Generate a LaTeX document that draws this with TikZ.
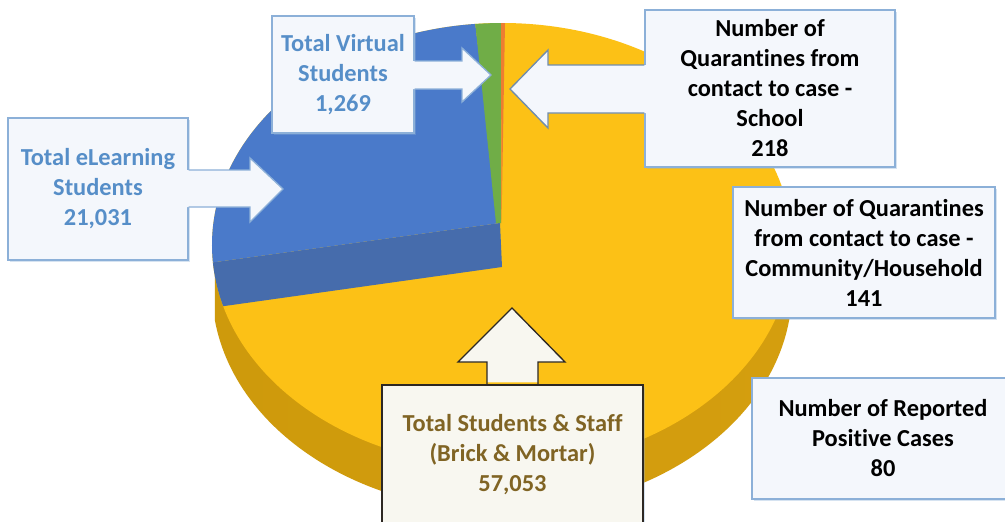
\documentclass[tikz,border=0pt]{standalone}
\usepackage{fontspec}
\setmainfont{Carlito}[Ligatures={NoCommon,NoRequired}, Contextuals=NoAlternate]
\usepackage{tikz}
\usetikzlibrary{shadows}

\definecolor{pieyellow}{RGB}{252,193,22}
\definecolor{pieblue}{RGB}{74,122,202}
\definecolor{piebluedark}{RGB}{70,108,172}
\definecolor{piegreen}{RGB}{112,173,71}
\definecolor{pieorange}{RGB}{237,125,49}
\definecolor{boxfill}{RGB}{244,247,252}
\definecolor{boxline}{RGB}{140,176,216}
\definecolor{bluetext}{RGB}{86,142,200}
\definecolor{creamfill}{RGB}{248,247,240}
\definecolor{browntext}{RGB}{128,100,36}
\definecolor{darkline}{RGB}{45,40,35}

\begin{document}
\begin{tikzpicture}[x=0.75pt,y=0.75pt,yscale=-1,xscale=1,
  txt/.style={font=\fontsize{18.3}{22.5}\selectfont\bfseries, align=center, inner sep=0pt},
  bluebox/.style={txt, draw=boxline, line width=1pt, fill=boxfill, text=bluetext,
    drop shadow={shadow xshift=1.5pt, shadow yshift=-1.5pt, opacity=0.35, fill=boxline}},
  blackbox/.style={bluebox, text=black},
  brickbox/.style={txt, draw=darkline, line width=1pt, fill=creamfill, text=browntext,
    drop shadow={shadow xshift=1.5pt, shadow yshift=-1.5pt, opacity=0.35, fill=boxline}},
  arrowline/.style={line width=1pt, line join=miter}
]
\path [use as bounding box, fill=white] (0,0) rectangle (1005,521);

%Shape: Pie side
\shade [left color={rgb,255:red,206;green,154;blue,12}, middle color={rgb,255:red,240;green,186;blue,24}, right color={rgb,255:red,212;green,158;blue,14}]
  (214.8,275.9) -- (214.8,319.9) arc [start angle=172, end angle=0, x radius=290, y radius=222] -- (792,245) -- cycle;
%Shape: Pie top (Brick & Mortar)
\fill [pieyellow] (502,245) ellipse [x radius=290, y radius=222];
%Shape: Slice eLearning, face
\fill [piebluedark] (212.9,262.4) -- (500,223) -- (502,267) -- (223.2,306.2) arc [start angle=164, end angle=175.5, x radius=290, y radius=222] -- cycle;
%Shape: Slice eLearning, top
\fill [pieblue] (500,223) -- (212.9,262.4) arc [start angle=175.5, end angle=264.7, x radius=290, y radius=222] -- cycle;
%Shape: Slice Virtual
\fill [piegreen] (475.3,24) arc [start angle=264.7, end angle=269.8, x radius=290, y radius=222] -- (501,223) -- (496,223) -- cycle;
%Shape: Slice School
\fill [pieorange] (501,23) -- (505,23) -- (501.5,223) -- cycle;

% Text Node
\draw (343,74.5) node [bluebox, minimum width=106.5pt, minimum height=87.75pt] (virt) {Total Virtual\\Students\\1,269};
% Text Node
\draw (98,189) node [bluebox, minimum width=135pt, minimum height=106.5pt] (elearn) {Total eLearning\\Students\\21,031};
% Text Node
\draw (770,88.5) node [blackbox, minimum width=187.5pt, minimum height=117.75pt] (school) {Number of\\Quarantines from\\contact to case -\\School\\218};
% Text Node
\draw (864,252.5) node [blackbox, minimum width=196.5pt, minimum height=98.25pt] (household) {Number of Quarantines\\from contact to case -\\Community/Household\\141};
% Text Node
\draw (883,438.5) node [blackbox, minimum width=196.5pt, minimum height=90.75pt] (positive) {Number of Reported\\Positive Cases\\80};
% Text Node
\draw (512.5,455) node [brickbox, minimum width=195.75pt, minimum height=105pt] (brick) {Total Students \& Staff\\(Brick \& Mortar)\\57,053};

\coordinate (virttip) at (491,75);
\coordinate (elearntip) at (283,189);
\coordinate (schooltip) at (510,89);
\coordinate (bricktip) at (512,308);

%Shape: Arrow to Virtual
\fill [boxfill] ([xshift=-1.5pt]virt.east |- 0,61) -- (462,61) -- (462,48) -- (virttip) -- (462,102) -- (462,89) -- ([xshift=-1.5pt]virt.east |- 0,89) -- cycle;
\draw [boxline, arrowline] (virt.east |- 0,61) -- (462,61) -- (462,48) -- (virttip) -- (462,102) -- (462,89) -- (virt.east |- 0,89);
%Shape: Arrow to eLearning
\fill [boxfill] ([xshift=-1.5pt]elearn.east |- 0,170) -- (250,170) -- (250,158) -- (elearntip) -- (250,222) -- (250,207) -- ([xshift=-1.5pt]elearn.east |- 0,207) -- cycle;
\draw [boxline, arrowline] (elearn.east |- 0,170) -- (250,170) -- (250,158) -- (elearntip) -- (250,222) -- (250,207) -- (elearn.east |- 0,207);
%Shape: Arrow to School
\fill [boxfill] ([xshift=1.5pt]school.west |- 0,65) -- (548,65) -- (548,50) -- (schooltip) -- (548,128) -- (548,113) -- ([xshift=1.5pt]school.west |- 0,113) -- cycle;
\draw [boxline!80!black, arrowline] (school.west |- 0,65) -- (548,65) -- (548,50) -- (schooltip) -- (548,128) -- (548,113) -- (school.west |- 0,113);
%Shape: Arrow to Brick & Mortar
\fill [creamfill] ([yshift=-1.5pt]brick.north -| 487,0) -- (487,362) -- (458,362) -- (bricktip) -- (565,362) -- (538,362) -- ([yshift=-1.5pt]brick.north -| 538,0) -- cycle;
\draw [darkline, arrowline] (brick.north -| 487,0) -- (487,362) -- (458,362) -- (bricktip) -- (565,362) -- (538,362) -- (brick.north -| 538,0);

\end{tikzpicture}
\end{document}
